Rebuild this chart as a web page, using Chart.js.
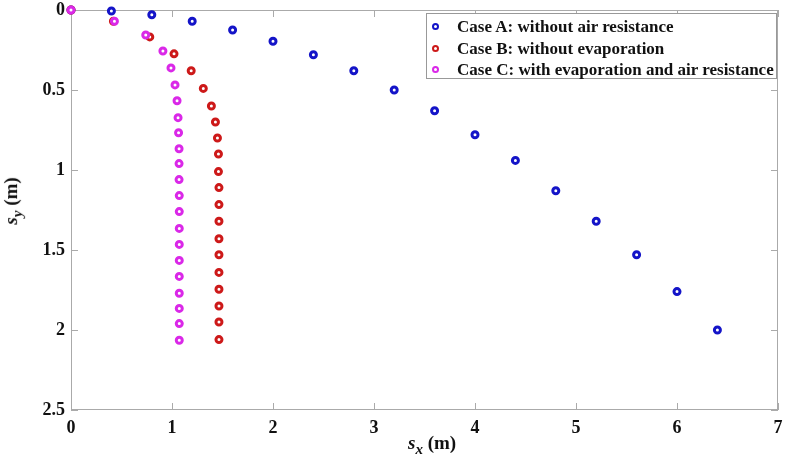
<!DOCTYPE html>
<html>
<head>
<meta charset="utf-8">
<script src="https://cdn.jsdelivr.net/npm/chart.js@4/dist/chart.umd.min.js"></script>
<style>
    html, body { margin: 0; padding: 0; background: #fff; }
    #wrap { position: relative; width: 790px; height: 461px; font-family: "Liberation Serif", "Times New Roman", serif; }
    #trajChart { position: absolute; left: 0; top: 0; }
    .axis-title { position: absolute; font-weight: bold; font-size: 19px; color: #111; white-space: nowrap; }
    .axis-title sub { font-size: 15px; }
    #xTitle { left: 408px; top: 432px; }
    #yTitle { left: -22px; top: 188px; transform: rotate(-90deg); transform-origin: center center; width: 70px; text-align: center; }
    #legendBox { position: absolute; left: 426px; top: 13px; width: 351px; height: 66px; border: 1px solid #999; background: #fff; box-sizing: border-box; padding-top: 2px; }
    .leg-row { position: relative; height: 21.5px; line-height: 21.5px; padding-left: 30px; font-size: 17px; font-weight: bold; color: #111; white-space: nowrap; }
    .leg-dot { position: absolute; left: 5px; top: 7px; width: 3px; height: 3px; border-radius: 50%; border: 2.5px solid; background: #fff; }
</style>
</head>
<body>
<div id="wrap">
    <canvas id="trajChart" width="790" height="461"></canvas>
    <div class="axis-title" id="xTitle"><i>s</i><sub><i>x</i></sub> (m)</div>
    <div class="axis-title" id="yTitle"><i>s</i><sub><i>y</i></sub> (m)</div>
    <div id="legendBox"></div>
</div>
<script>
// series labels
const seriesNames = ['Case A: without air resistance', 'Case B: without evaporation', 'Case C: with evaporation and air resistance'];
const seriesColors = ['rgb(20, 20, 200)', 'rgb(205, 25, 25)', 'rgb(218, 40, 232)'];

// Case A: without air resistance
const caseAX = [0, 0.4, 0.8, 1.2, 1.6, 2.0, 2.4, 2.8, 3.2, 3.6, 4.0, 4.4, 4.8, 5.2, 5.6, 6.0, 6.4];
const caseAY = [0, 0.006, 0.03, 0.07, 0.125, 0.195, 0.28, 0.38, 0.50, 0.63, 0.78, 0.94, 1.13, 1.32, 1.53, 1.76, 2.0];

// Case B: without evaporation
const caseBX = [0, 0.42, 0.78, 1.02, 1.19, 1.31, 1.39, 1.43, 1.45, 1.46, 1.46, 1.465, 1.465, 1.465, 1.465, 1.465, 1.465, 1.465, 1.465, 1.465, 1.465];
const caseBY = [0, 0.07, 0.168, 0.274, 0.38, 0.49, 0.60, 0.70, 0.80, 0.90, 1.01, 1.11, 1.216, 1.32, 1.43, 1.53, 1.64, 1.745, 1.85, 1.95, 2.06];

// Case C: with evaporation and air resistance
const caseCX = [0, 0.43, 0.74, 0.91, 0.99, 1.03, 1.05, 1.06, 1.065, 1.07, 1.07, 1.07, 1.072, 1.072, 1.072, 1.072, 1.072, 1.072, 1.072, 1.072, 1.072, 1.072];
const caseCY = [0, 0.07, 0.156, 0.256, 0.362, 0.468, 0.567, 0.673, 0.767, 0.867, 0.96, 1.06, 1.16, 1.26, 1.365, 1.465, 1.565, 1.665, 1.77, 1.865, 1.96, 2.064];

// axis ranges
const xMin = 0, xMax = 7, xStep = 1;
const yMin = 0, yMax = 2.5, yStep = 0.5;

function toPoints(xs, ys) {
    return xs.map((x, i) => ({ x: x, y: ys[i] }));
}

function makeSet(idx, xs, ys, order) {
    return {
        label: seriesNames[idx],
        data: toPoints(xs, ys),
        showLine: false,
        pointRadius: 3,
        pointHoverRadius: 3,
        pointBorderWidth: 3,
        borderColor: seriesColors[idx],
        pointBorderColor: seriesColors[idx],
        pointBackgroundColor: '#fff',
        backgroundColor: '#fff',
        order: order,
        clip: false
    };
}

// box around the plot with MATLAB-like inward ticks
const boxPlugin = {
    id: 'boxPlugin',
    beforeDatasetsDraw(chart) {
        const ctx = chart.ctx;
        const a = chart.chartArea;
        const xs = chart.scales.x, ys = chart.scales.y;
        const len = 7;
        ctx.save();
        ctx.strokeStyle = '#aaa';
        ctx.lineWidth = 1;
        ctx.strokeRect(a.left + 0.5, a.top + 0.5, a.right - a.left - 1, a.bottom - a.top - 1);
        ctx.beginPath();
        xs.ticks.forEach(t => {
            const px = Math.round(xs.getPixelForValue(t.value)) + 0.5;
            ctx.moveTo(px, a.bottom); ctx.lineTo(px, a.bottom - len);
            ctx.moveTo(px, a.top); ctx.lineTo(px, a.top + len);
        });
        ys.ticks.forEach(t => {
            const py = Math.round(ys.getPixelForValue(t.value)) + 0.5;
            ctx.moveTo(a.left, py); ctx.lineTo(a.left + len, py);
            ctx.moveTo(a.right, py); ctx.lineTo(a.right - len, py);
        });
        ctx.stroke();
        ctx.restore();
    }
};

const tickFont = { family: '"Liberation Serif", "Times New Roman", serif', size: 18, weight: 'bold' };

const trajChart = new Chart(document.getElementById('trajChart').getContext('2d'), {
    type: 'scatter',
    data: {
        datasets: [
            makeSet(0, caseAX, caseAY, 3),
            makeSet(1, caseBX, caseBY, 2),
            makeSet(2, caseCX, caseCY, 1)
        ]
    },
    options: {
        responsive: false,
        animation: false,
        events: [],
        layout: { padding: { left: 0, top: 10, right: 12, bottom: 0 } },
        plugins: {
            legend: { display: false },
            tooltip: { enabled: false }
        },
        scales: {
            x: {
                type: 'linear',
                min: xMin,
                max: xMax,
                grid: { display: false, drawTicks: false },
                border: { display: false },
                ticks: { stepSize: xStep, color: '#111', font: tickFont, padding: 8, maxRotation: 0 },
                afterFit(scale) {
                    scale.height = 51;
                    scale.paddingLeft = 0;
                    scale.paddingRight = 0;
                }
            },
            y: {
                type: 'linear',
                reverse: true,
                min: yMin,
                max: yMax,
                grid: { display: false, drawTicks: false },
                border: { display: false },
                ticks: {
                    stepSize: yStep, color: '#111', font: tickFont, padding: 6,
                    callback: v => String(v)
                },
                afterFit(scale) {
                    scale.width = 71;
                    scale.paddingTop = 0;
                    scale.paddingBottom = 0;
                }
            }
        }
    },
    plugins: [boxPlugin]
});

// legend drawn as html inside the plot box
const legendBox = document.getElementById('legendBox');
trajChart.data.datasets.forEach(ds => {
    const row = document.createElement('div');
    row.className = 'leg-row';
    const dot = document.createElement('span');
    dot.className = 'leg-dot';
    dot.style.borderColor = ds.borderColor;
    row.appendChild(dot);
    row.appendChild(document.createTextNode(ds.label));
    legendBox.appendChild(row);
});
</script>
</body>
</html>
